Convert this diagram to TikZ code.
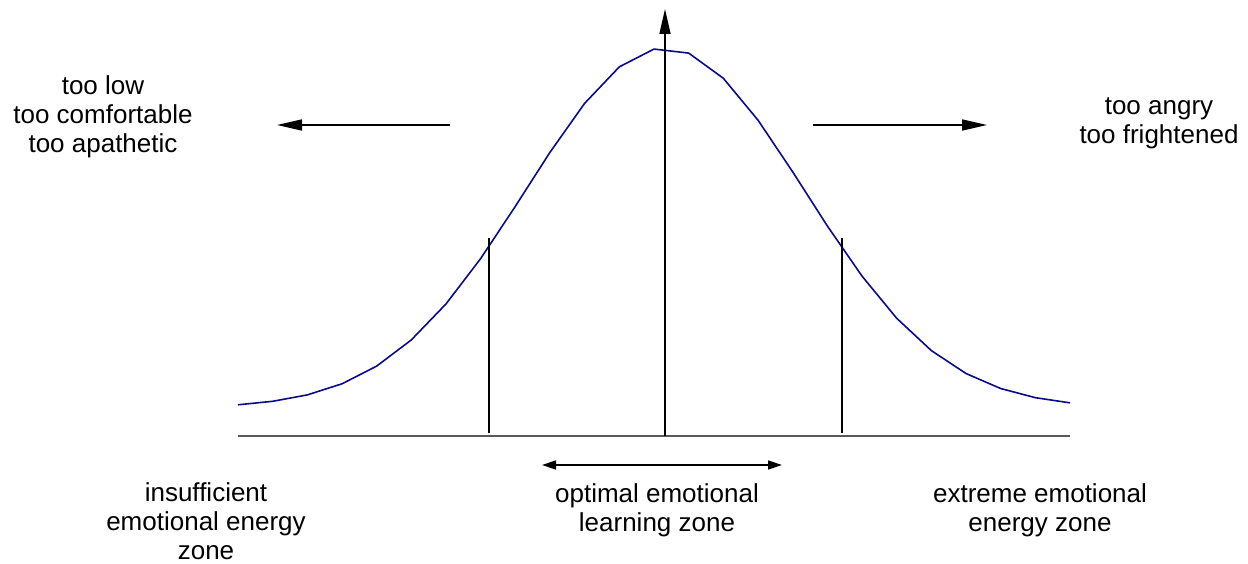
\documentclass[tikz,border=0pt]{standalone}
\usepackage{fontspec}
\setmainfont{Liberation Sans}
\usetikzlibrary{arrows.meta}
\definecolor{curveblue}{RGB}{10,10,140}
\definecolor{basegray}{RGB}{90,90,90}
\begin{document}
\begin{tikzpicture}[x=1pt,y=-1pt,
  lbl/.style={align=center,inner sep=0pt,anchor=north,font=\fontsize{26}{29}\selectfont},
  bigarrow/.style={line width=1.6pt,-{Triangle[length=25pt,width=11pt]}},
  zonearrow/.style={line width=1.6pt,{Triangle[length=14pt,width=9pt]}-{Triangle[length=14pt,width=9pt]}},
  marker/.style={line width=1.6pt},
  gauss/.style={line width=1.6pt,color=curveblue,line join=round}]
\useasboundingbox (0,0) rectangle (1248,564);
% base line
\coordinate (bl) at (238,436);
\coordinate (br) at (1070,436);
\draw[line width=1.3pt,basegray] (bl) -- (br);
% bell curve
\draw[gauss] plot[domain=238:1070,samples=25] (\x,{436-28-360*exp(-0.5*((\x-665)/139)^2)});
% markers
\coordinate (lmt) at (489,238);
\coordinate (lmb) at (489,433);
\coordinate (rmt) at (842,238);
\coordinate (rmb) at (842,433);
\draw[marker] (lmb) -- (lmt);
\draw[marker] (rmb) -- (rmt);
% vertical axis
\coordinate (axb) at (665,436);
\coordinate (axt) at (665,9);
\draw[bigarrow] (axb) -- (axt);
% side arrows
\coordinate (la1) at (450,125);
\coordinate (la2) at (277,125);
\coordinate (ra1) at (813,125);
\coordinate (ra2) at (987,125);
\draw[bigarrow] (la1) -- (la2);
\draw[bigarrow] (ra1) -- (ra2);
% zone arrow
\coordinate (za1) at (542,465);
\coordinate (za2) at (782,465);
\draw[zonearrow] (za1) -- (za2);
% texts
\node[lbl] (lowtxt) at (103,75) {too low\\too comfortable\\too apathetic};
\node[lbl] (hightxt) at (1159,97) {too angry\\too frightened};
\node[lbl] (insuff) at (206,482) {insufficient\\emotional energy\\zone};
\node[lbl] (optimal) at (657,483) {optimal emotional\\learning zone};
\node[lbl] (extreme) at (1040,483) {extreme emotional\\energy zone};
\end{tikzpicture}
\end{document}
